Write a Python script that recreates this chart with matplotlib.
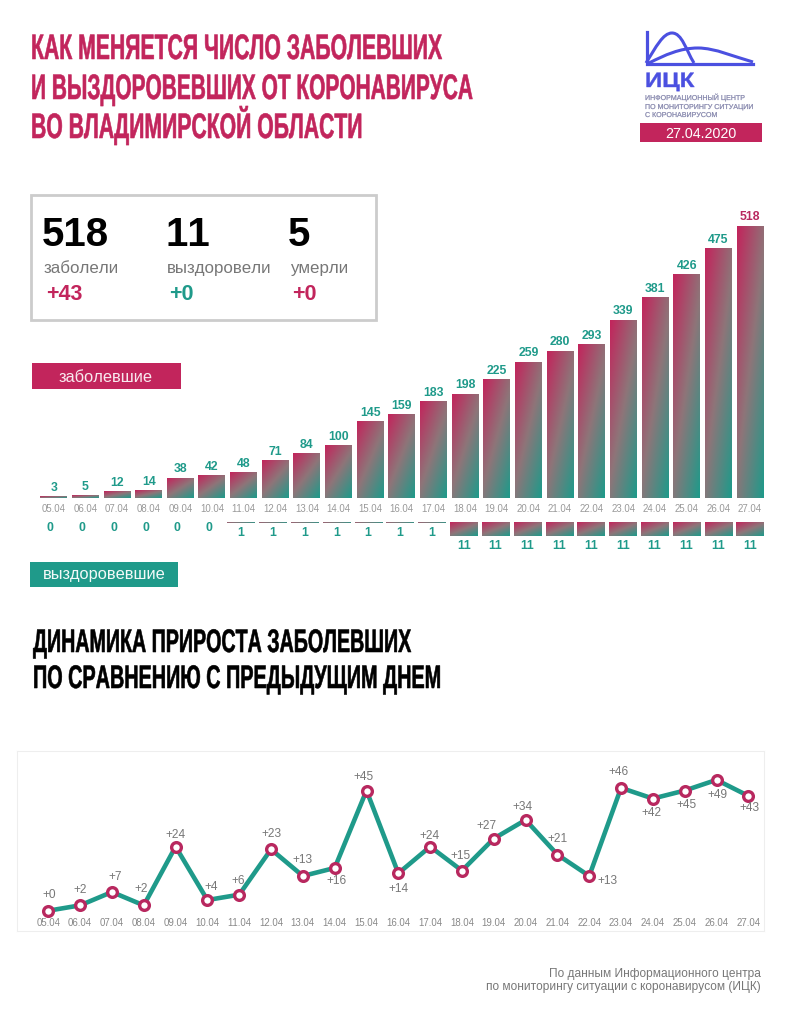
import numpy as np
import matplotlib
matplotlib.use("Agg")
import matplotlib.pyplot as plt
from matplotlib.colors import LinearSegmentedColormap
from matplotlib.patches import Rectangle, PathPatch
from matplotlib.path import Path
from matplotlib.patheffects import AbstractPathEffect
from matplotlib.transforms import Affine2D

plt.rcParams["font.family"] = ["Liberation Sans", "DejaVu Sans"]
plt.rcParams["text.kerning_factor"] = 10

W, H = 794, 1024
CRIMSON = "#C2255C"
TEAL = "#1F9A8A"
BLUE = "#4B50E0"
GRAY = "#777777"

# data
dates = ["05.04", "06.04", "07.04", "08.04", "09.04", "10.04", "11.04", "12.04",
         "13.04", "14.04", "15.04", "16.04", "17.04", "18.04", "19.04", "20.04",
         "21.04", "22.04", "23.04", "24.04", "25.04", "26.04", "27.04"]
infected = [3, 5, 12, 14, 38, 42, 48, 71, 84, 100, 145, 159, 183, 198, 225, 259,
            280, 293, 339, 381, 426, 475, 518]
recovered = [0, 0, 0, 0, 0, 0, 1, 1, 1, 1, 1, 1, 1, 11, 11, 11, 11, 11, 11, 11, 11, 11, 11]
growth = [0, 2, 7, 2, 24, 4, 6, 23, 13, 16, 45, 14, 24, 15, 27, 34, 21, 13, 46, 42, 45, 49, 43]

# where each growth label sits relative to its point (pixels, x right / y up)
growth_offsets = [(1, 16), (0, 15), (3, 15), (-3, 16), (0, 12), (4, 13), (-1, 14), (0, 15),
                  (0, 16), (2, -13), (-3, 14), (0, -16), (-1, 11), (-1, 15), (-7, 13), (-3, 13),
                  (0, 16), (18, -5), (-3, 16), (-1, -14), (2, -14), (1, -15), (1, -12)]

summary_values = ["518", "11", "5"]
summary_labels = ["заболели", "выздоровели", "умерли"]
summary_deltas = ["+43", "+0", "+0"]
summary_colors = [CRIMSON, TEAL, CRIMSON]

grad_cmap = LinearSegmentedColormap.from_list("cr_teal", [CRIMSON, "#8E7579", TEAL])
u, v = np.meshgrid(np.linspace(0, 1, 40), np.linspace(0, 1, 40))
grad = 0.45 * u + 0.55 * v


class Stretch(AbstractPathEffect):
    # no condensed font is installed: stretch the glyphs about the baseline start, fatten a bit
    def __init__(self, sx=1.0, sy=1.0, stroke=0.0):
        super().__init__()
        self.sx = sx
        self.sy = sy
        self.stroke = stroke

    def draw_path(self, renderer, gc, tpath, affine, rgbFace=None):
        m = affine.get_matrix()
        x0, y0 = m[0, 2], m[1, 2]
        moved = affine + Affine2D().translate(-x0, -y0).scale(self.sx, self.sy).translate(x0, y0)
        gc0 = renderer.new_gc()
        gc0.copy_properties(gc)
        gc0.set_linewidth(self.stroke)
        gc0.set_foreground(rgbFace)
        renderer.draw_path(gc0, tpath, moved, rgbFace)
        gc0.restore()


def axes_px(left, top, right, bottom):
    return fig.add_axes([left / W, 1 - bottom / H, (right - left) / W, (bottom - top) / H])


def grad_bar(ax, x, width, bottom, top):
    ax.imshow(grad, extent=(x - width / 2, x + width / 2, bottom, top), origin="upper",
              cmap=grad_cmap, vmin=0, vmax=1, aspect="auto", interpolation="bilinear")


fig = plt.figure(figsize=(W / 100, H / 100), dpi=100, facecolor="white")

# page layer in pixel coordinates: headings, box, logo
page = fig.add_axes([0, 0, 1, 1])
page.set_xlim(0, W)
page.set_ylim(H, 0)
page.axis("off")

for line, y, size in zip(["КАК МЕНЯЕТСЯ ЧИСЛО ЗАБОЛЕВШИХ", "И ВЫЗДОРОВЕВШИХ ОТ КОРОНАВИРУСА",
                          "ВО ВЛАДИМИРСКОЙ ОБЛАСТИ"], [59, 99, 138], [15.27, 15.04, 15.25]):
    page.text(31, y, line, color=CRIMSON, fontsize=size, fontweight="bold", va="baseline",
              path_effects=[Stretch(sy=25.5 / size, stroke=0.4)])
for line, y, size in zip(["ДИНАМИКА ПРИРОСТА ЗАБОЛЕВШИХ", "ПО СРАВНЕНИЮ С ПРЕДЫДУЩИМ ДНЕМ"],
                         [652, 688], [14.15, 14.26]):
    page.text(33, y, line, color="black", fontsize=size, fontweight="bold", va="baseline",
              path_effects=[Stretch(sy=23.5 / size, stroke=0.4)])

# logo
page.plot([646.5, 646.5, 753], [32, 64, 64], color=BLUE, lw=2.3, solid_joinstyle="miter")
curve_codes = [Path.MOVETO] + [Path.CURVE4] * 6
page.add_patch(PathPatch(Path([(646, 63), (656, 47), (663, 33), (672, 33), (682, 33), (686, 50), (694, 63)],
                              curve_codes), fc="none", ec=BLUE, lw=2.2))
page.add_patch(PathPatch(Path([(649, 63), (665, 55), (680, 48), (698, 48), (715, 48), (735, 57), (753, 62)],
                              curve_codes), fc="none", ec=BLUE, lw=2.2))
page.text(645, 87, "ИЦК", color=BLUE, fontsize=15, fontweight="bold", va="baseline",
          path_effects=[Stretch(sx=1.15, stroke=0.3)])
for line, y in zip(["ИНФОРМАЦИОННЫЙ ЦЕНТР", "ПО МОНИТОРИНГУ СИТУАЦИИ", "С КОРОНАВИРУСОМ"], [100, 109, 117]):
    page.text(645, y, line, color="#7F80A8", fontsize=5.1, va="baseline", path_effects=[Stretch(stroke=0.15)])
page.add_patch(Rectangle((640, 123), 122, 19, color=CRIMSON, lw=0))
page.text(701, 133.5, "27.04.2020", color="white", fontsize=10.3, ha="center", va="center")

# summary box
page.add_patch(Rectangle((31, 195), 345, 125, fc="white", ec="#CCCCCC", lw=2))
for i, x in enumerate([43, 166, 289]):
    page.text(x - 1, 235, summary_values[i], color="black", fontsize=29, fontweight="bold", va="center")
    page.text(x + 1, 268.5, summary_labels[i], color=GRAY, fontsize=12.2, va="center")
    page.text(x + 3, 294.5, summary_deltas[i], color=summary_colors[i], fontsize=15.5, fontweight="bold", va="center")

# legend tags
page.add_patch(Rectangle((32, 363), 149, 26, color=CRIMSON, lw=0))
page.text(106, 377, "заболевшие", color="white", fontsize=11.8, ha="center", va="center", alpha=0.9)
page.add_patch(Rectangle((30, 562), 148, 25, color=TEAL, lw=0))
page.text(104, 575, "выздоровевшие", color="white", fontsize=11.8, ha="center", va="center", alpha=0.95)

# infected bars
idx = np.arange(len(dates))
ax = axes_px(53.7 - 31.65, 200, 750 + 31.65, 498)
ax.patch.set_alpha(0)
for i, val in zip(idx, infected):
    grad_bar(ax, i, 0.85, 0, val)
    ax.text(i, val + 5, str(val), color="#B8285F" if i == len(dates) - 1 else TEAL, fontsize=8.8,
            fontweight="bold", ha="center", va="bottom")
ax.set_xlim(-1, len(dates))
ax.set_ylim(0, 298 / 0.525)
ax.set_xticks(idx, dates)
ax.set_yticks([])
ax.tick_params(axis="x", length=0, pad=4.5, labelsize=6.9, labelcolor="#999999")
for s in ax.spines.values():
    s.set_visible(False)

# recovered bars, hanging from the top
label_gap = {0: 4.7, 1: 7.7, 11: 7.9}
ax2 = axes_px(50 - 31.8, 522, 750 + 31.8, 562)
ax2.patch.set_alpha(0)
ax2.axis("off")
for i, val in zip(idx, recovered):
    if val > 0:
        grad_bar(ax2, i, 0.85, val, 0)
    ax2.text(i, val + label_gap[val], str(val), color=TEAL, fontsize=8.8, fontweight="bold",
             ha="center", va="center")
ax2.set_xlim(-1, len(dates))
ax2.set_ylim(40 / 1.27, 0)

# growth line
ax3 = axes_px(17, 751, 764, 931)
ax3.plot(idx, growth, color=TEAL, lw=3.3, marker="o", ms=7, mfc="white", mec="#B8285F", mew=2.4, zorder=3)
for i, val in enumerate(growth):
    ax3.annotate(f"+{val}", (i, val), xytext=(growth_offsets[i][0] * 0.72, growth_offsets[i][1] * 0.72),
                 textcoords="offset points", color=GRAY, fontsize=8.6, ha="center", va="center", zorder=4)
ax3.set_xlim((17 - 48.3) / 31.82, (764 - 48.3) / 31.82)
ax3.set_ylim(-(931 - 910.7) / 2.67, (910.7 - 751) / 2.67)
ax3.set_xticks(idx, dates)
ax3.set_yticks([])
ax3.tick_params(axis="x", length=0, pad=-9.6, labelsize=6.9, labelcolor="#888888")
for s in ax3.spines.values():
    s.set_color("#EEEEEE")
    s.set_linewidth(0.8)

# source note
page.text(761, 974, "По данным Информационного центра", color=GRAY, fontsize=8.6, ha="right", va="center")
page.text(761, 987, "по мониторингу ситуации с коронавирусом (ИЦК)", color=GRAY, fontsize=8.6, ha="right", va="center")

fig.savefig("out.png", dpi=100)
